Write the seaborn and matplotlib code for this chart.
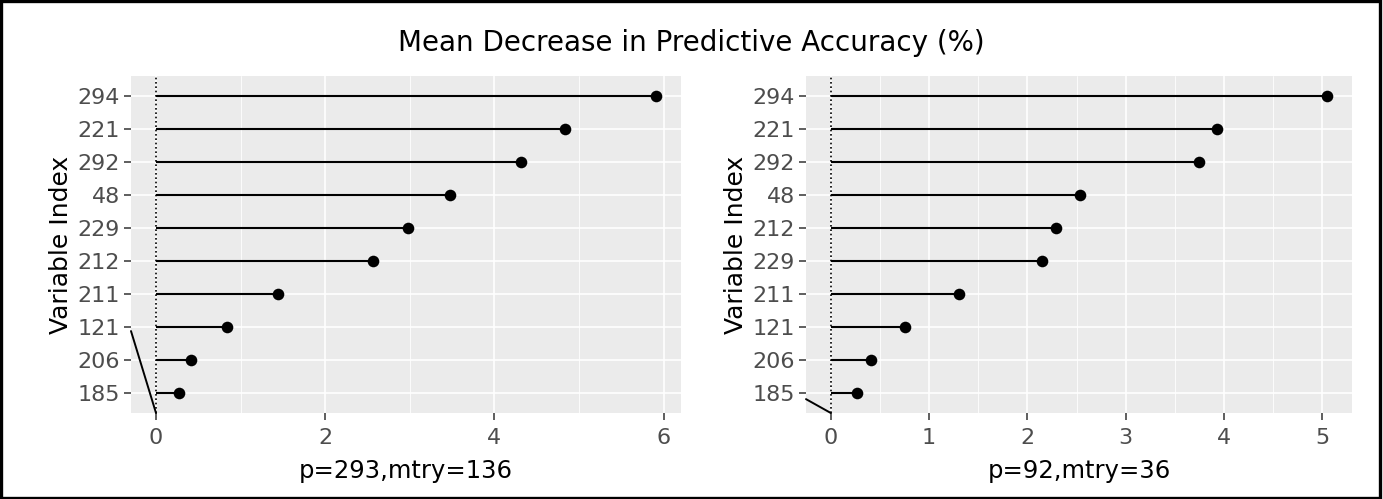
import matplotlib
matplotlib.use("Agg")
import matplotlib.pyplot as plt
import seaborn as sns
import pandas as pd
from matplotlib.patches import Rectangle
from matplotlib.ticker import MultipleLocator

# ---- data ----
left_vars = ["294", "221", "292", "48", "229", "212", "211", "121", "206", "185"]
left_vals = [5.91, 4.84, 4.32, 3.48, 2.98, 2.56, 1.44, 0.84, 0.41, 0.27]
right_vars = ["294", "221", "292", "48", "212", "229", "211", "121", "206", "185"]
right_vals = [5.05, 3.93, 3.75, 2.54, 2.29, 2.15, 1.30, 0.75, 0.41, 0.27]
left_xlabel = "p=293,mtry=136"
right_xlabel = "p=92,mtry=36"
left_ticks = [0, 2, 4, 6]
right_ticks = [0, 1, 2, 3, 4, 5]
title = "Mean Decrease in Predictive Accuracy (%)"

sns.set_theme(style="darkgrid", rc={
    "axes.facecolor": "#EBEBEB",
    "grid.color": "white",
    "axes.edgecolor": "none",
    "xtick.bottom": True, "ytick.left": True,
})
plt.rcParams["font.family"] = ["DejaVu Sans"]

fig = plt.figure(figsize=(13.83, 4.99), dpi=100)
fig.patch.set_facecolor("white")

def panel(rect, vars_, vals, ticks, minor, xlabel, art_start_y):
    ax = fig.add_axes(rect)
    df = pd.DataFrame({"var": vars_, "val": vals})
    vmax = max(vals)
    ax.hlines(y=df["var"], xmin=0, xmax=df["val"], color="black", lw=1.5, zorder=2)
    sns.scatterplot(data=df, x="val", y="var", ax=ax, color="black", s=70,
                    linewidth=0, zorder=3, legend=False)
    ax.set_ylim(len(vars_) - 0.4, -0.6)
    xlo, xhi = -0.05 * vmax, 1.05 * vmax
    ax.set_xlim(xlo, xhi)
    ax.axvline(0, color="black", ls=(0, (1, 1.6)), lw=1.2, zorder=2)
    ax.set_xticks(ticks)
    ax.xaxis.set_minor_locator(MultipleLocator(minor))
    ax.grid(which="major", color="white", lw=1.2)
    ax.grid(which="minor", axis="x", color="white", lw=0.6)
    ax.tick_params(axis="both", which="major", length=5, width=1.1,
                   color="#333333", labelcolor="#4D4D4D", labelsize=16, pad=3)
    ax.tick_params(axis="x", which="major", pad=6)
    ax.tick_params(axis="x", which="minor", length=0)
    ax.set_xlabel(xlabel, fontsize=17.5, color="black", labelpad=8)
    ax.set_ylabel("Variable Index", fontsize=18, color="black", labelpad=3)
    for s in ax.spines.values():
        s.set_visible(False)
    # stray diagonal stroke present in the reference
    ax.plot([xlo, 0], [art_start_y, len(vars_) - 0.4], color="black", lw=1.4,
            clip_on=False, zorder=4)
    return ax

panel([131 / 1383, 86 / 499, 550 / 1383, 337 / 499], left_vars, left_vals,
      left_ticks, 1, left_xlabel, 7.12)
panel([806 / 1383, 86 / 499, 546 / 1383, 337 / 499], right_vars, right_vals,
      right_ticks, 0.5, right_xlabel, 9.18)

fig.text(0.5, 1 - 43 / 499, title, ha="center", va="center", fontsize=20, color="black")

fig.patches.append(Rectangle((0.001, 0.002), 0.997, 0.995, transform=fig.transFigure,
                             fill=False, edgecolor="black", lw=2.4))

fig.savefig("out.png", dpi=100)
